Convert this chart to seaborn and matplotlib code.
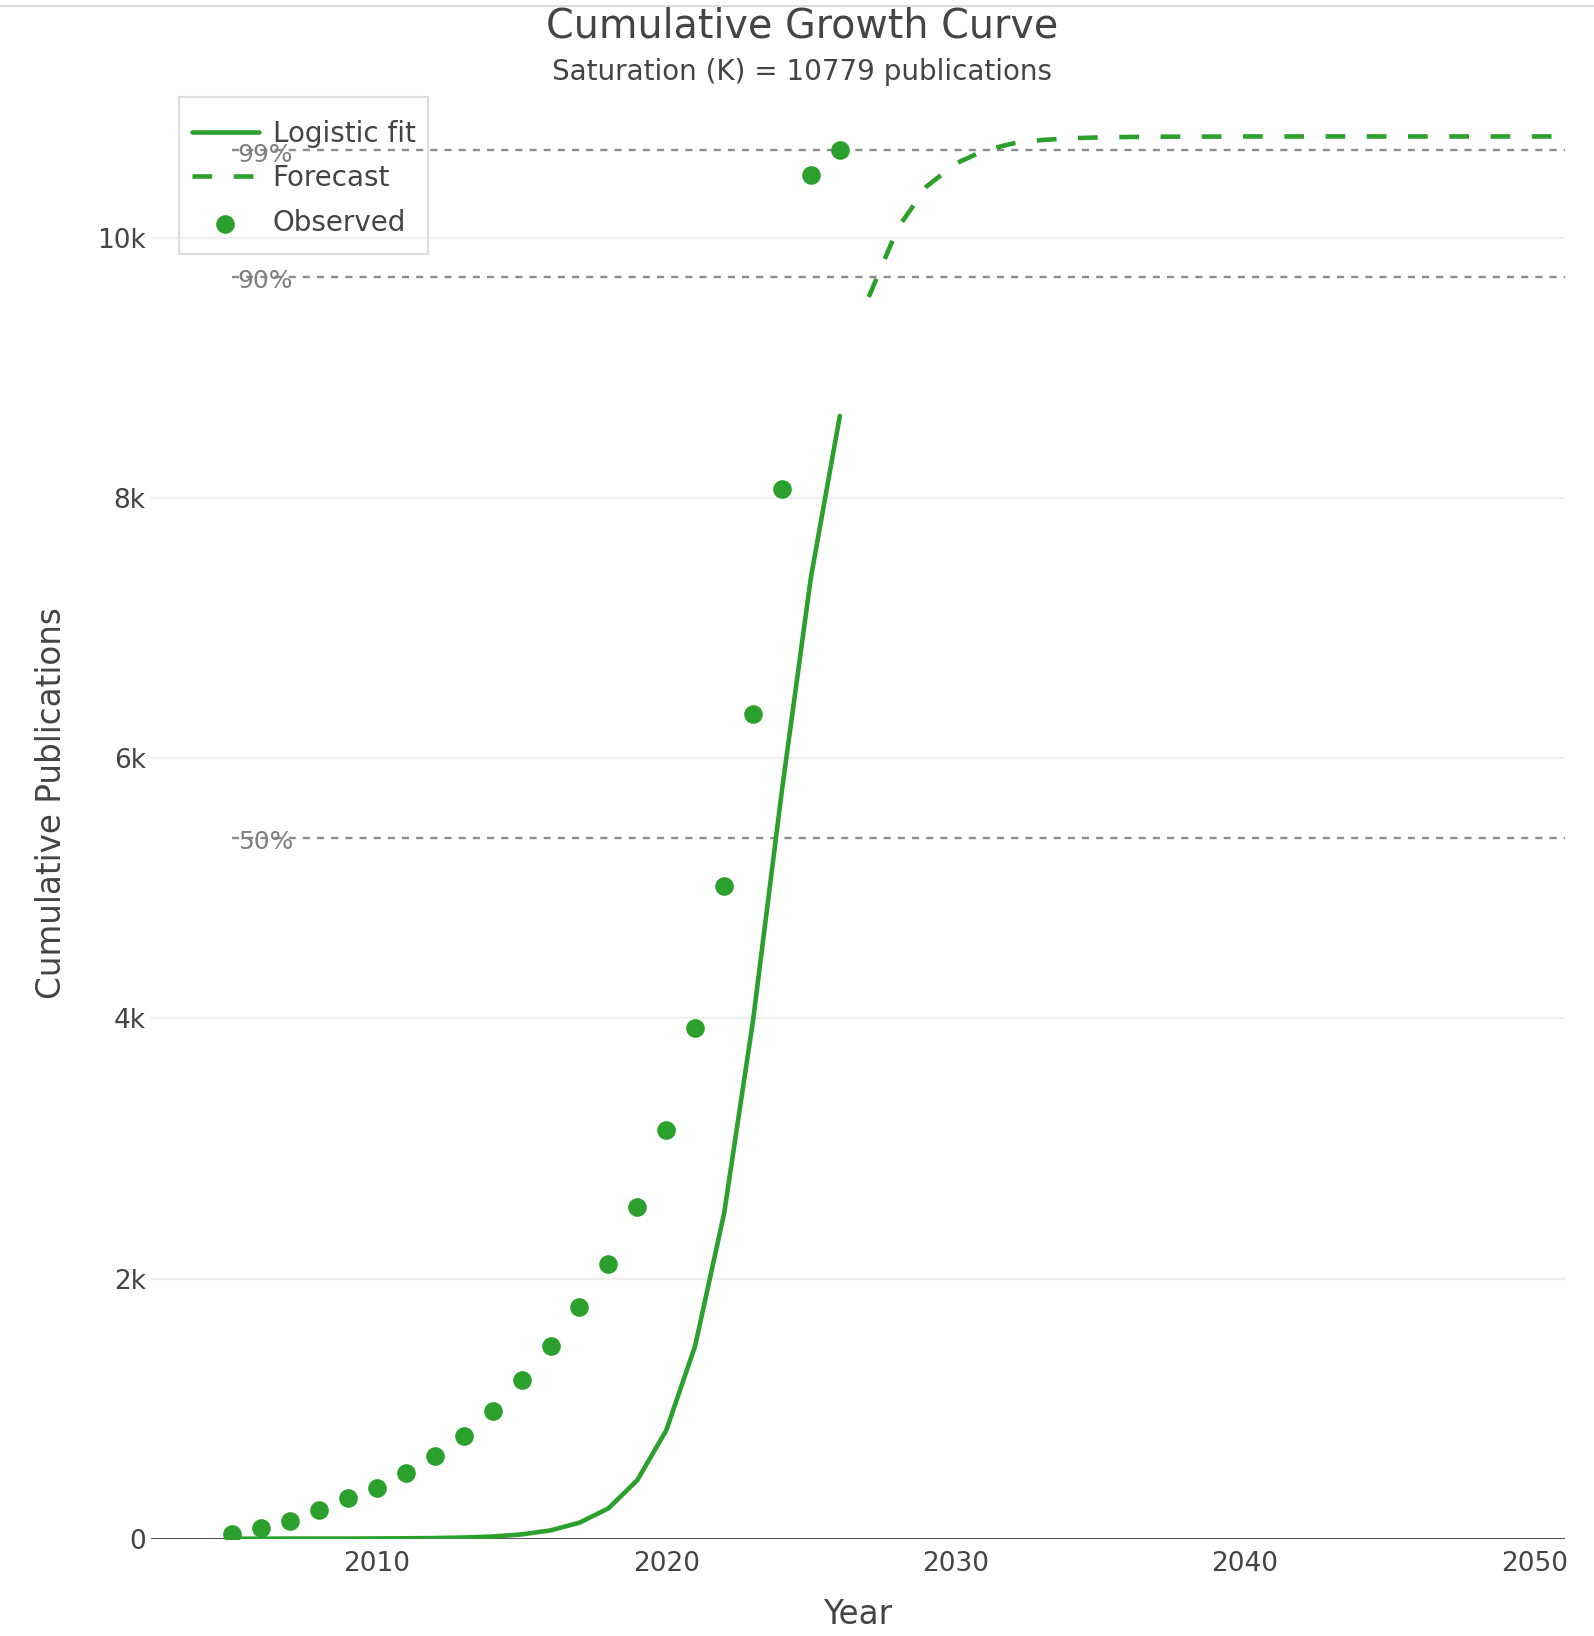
import pandas as pd
import matplotlib.pyplot as plt
import matplotlib.ticker as mticker
from matplotlib.lines import Line2D
from matplotlib.patches import Rectangle
import seaborn as sns

# values
obs_years = list(range(2005, 2027))
obs_values = [35, 82, 138, 217, 313, 392, 502, 636, 786, 978, 1219,
              1483, 1780, 2110, 2550, 3143, 3928, 5020, 6343, 8070, 10480, 10674]

fit_years = list(range(2005, 2027))
fit_values = [0, 0, 1, 1, 1, 2, 3, 5, 9, 17, 33,
              64, 123, 233, 450, 833, 1483, 2500, 3983, 5755, 7389, 8630]

fc_years = list(range(2027, 2052))
fc_values = [9545, 10073, 10395, 10570, 10672, 10726, 10752, 10765, 10772, 10775,
             10777, 10778, 10778, 10779, 10779, 10779, 10779, 10779, 10779, 10779,
             10779, 10779, 10779, 10779, 10779]

K = 10779
levels = [0.5, 0.9, 0.99]
level_labels = ["50%", "90%", "99%"]

obs = pd.DataFrame({"year": obs_years, "value": obs_values})
fit = pd.DataFrame({"year": fit_years, "value": fit_values})
fc = pd.DataFrame({"year": fc_years, "value": fc_values})

sns.set_style("white")
plt.rcParams["font.family"] = ["DejaVu Sans"]

green = "#2ca02c"
txt = "#444444"
W, H = 1594, 1636

fig = plt.figure(figsize=(W / 100, H / 100), dpi=100)
x0, x1 = 151.3, 1564.8
y_top, y_bot = 94.4, 1538.7
ax = fig.add_axes([x0 / W, 1 - y_bot / H, (x1 - x0) / W, (y_bot - y_top) / H])

# reference lines at share of saturation
for lv, lab in zip(levels, level_labels):
    ax.hlines(lv * K, 2005, 2052, color="#8c8c8c", lw=1.7, linestyles=(0, (3, 3)), zorder=1.5)
    ax.annotate(lab, (2005, lv * K), xytext=(4, -3), textcoords="offset points",
                ha="left", va="center", fontsize=18, color="#808080", zorder=6)

sns.lineplot(data=fit, x="year", y="value", color=green, lw=3.3, label="Logistic fit", ax=ax, zorder=3)
sns.lineplot(data=fc, x="year", y="value", color=green, lw=3.3, label="Forecast", ax=ax, zorder=3)
ax.lines[-1].set_dashes((4.3, 4.7))
sns.scatterplot(data=obs, x="year", y="value", color=green, s=180, linewidth=0,
                label="Observed", ax=ax, zorder=4)

ax.set_xlim(2002.2, 2051.06)
ax.set_ylim(0, K * 1.03)
ax.set_xticks([2010, 2020, 2030, 2040, 2050])
ax.set_yticks([0, 2000, 4000, 6000, 8000, 10000])
ax.yaxis.set_major_formatter(mticker.FuncFormatter(lambda v, _: "0" if v == 0 else f"{int(v / 1000)}k"))
ax.tick_params(axis="both", length=0, labelsize=19, labelcolor=txt)
ax.tick_params(axis="y", pad=4)
ax.tick_params(axis="x", pad=9)
ax.yaxis.grid(True, color="#eeeeee", lw=1.7)
ax.xaxis.grid(False)
ax.set_axisbelow(True)
ax.axhline(0, color="#444444", lw=2.0, zorder=1.2)
for s in ax.spines.values():
    s.set_visible(False)
ax.set_xlabel("")
ax.set_ylabel("")

handles, labels = ax.get_legend_handles_labels()
leg = ax.legend(handles, labels, loc="upper left", bbox_to_anchor=(192 / W, 1 - 119.5 / H),
                bbox_transform=fig.transFigure, fontsize=20, handlelength=2.4,
                handletextpad=0.5, labelspacing=0.6, borderpad=0, borderaxespad=0,
                frameon=False, labelcolor=txt)
fig.add_artist(Rectangle((179.4 / W, 1 - 253.5 / H), (427.7 - 179.4) / W, (253.5 - 97) / H,
                         transform=fig.transFigure, fill=False, edgecolor="#dddddd", lw=1.5))

fig.text(0.503, 1 - 27 / H, "Cumulative Growth Curve", ha="center", va="center", fontsize=28.5, color=txt)
fig.text(0.503, 1 - 72 / H, f"Saturation (K) = {K} publications", ha="center", va="center",
         fontsize=20, color=txt)
fig.text(858 / W, 1 - 1614 / H, "Year", ha="center", va="center", fontsize=23.5, color=txt)
fig.text(52 / W, 1 - 803 / H, "Cumulative Publications", ha="center", va="center",
         rotation=90, fontsize=23.5, color=txt)
fig.add_artist(Line2D([0, 1], [1 - 6 / H, 1 - 6 / H], color="#dddddd", lw=1.5))

fig.savefig("out.png", dpi=100)
